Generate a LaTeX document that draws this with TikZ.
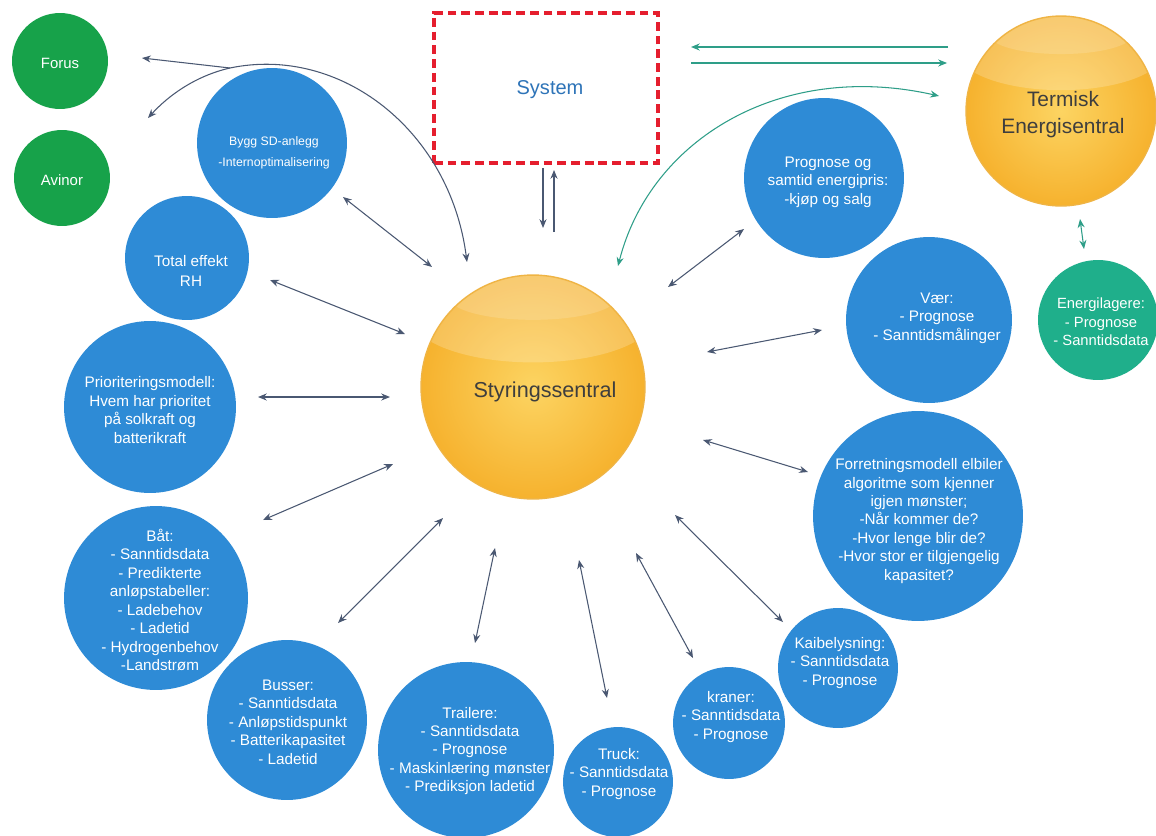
\documentclass[tikz,border=0pt]{standalone}
\usepackage{fontspec}
\setmainfont{Liberation Sans}
\usetikzlibrary{arrows.meta,calc}
\definecolor{cblue}{HTML}{2E8BD6}
\definecolor{cgreen}{HTML}{17A24A}
\definecolor{cteal}{HTML}{1FAF8B}
\definecolor{yin}{HTML}{FCD462}
\definecolor{yout}{HTML}{F6B22E}
\definecolor{yedge}{HTML}{EFB444}
\definecolor{arrc}{HTML}{4A5872}
\definecolor{tealarr}{HTML}{2E9E88}
\definecolor{sysred}{HTML}{E51E2E}
\definecolor{sysblue}{HTML}{2E74B8}
\definecolor{darktxt}{HTML}{3E3E3E}
\begin{document}
\begin{tikzpicture}[x=0.02cm,y=-0.02cm,
  circ/.style={circle, inner sep=0pt, minimum size=#1*0.04cm},
  bluec/.style={circ=#1, fill=cblue},
  greenc/.style={circ=#1, fill=cgreen},
  tealc/.style={circ=#1, fill=cteal},
  yelc/.style={circ=#1, draw=yedge, line width=0.8pt, shading=radial,
    inner color=yin, outer color=yout,
    path picture={\fill[white,opacity=0.2] ($(path picture bounding box.north)+(0,0.36*#1)$) ellipse[x radius=1.1*#1, y radius=0.42*#1];
                  \fill[white,opacity=0.15] ($(path picture bounding box.north)+(0,0.2*#1)$) ellipse[x radius=0.75*#1, y radius=0.2*#1];}},
  wtxt/.style={text=white, align=center, font=\fontsize{8.7}{10.5}\selectfont, inner sep=0pt},
  dbl/.style={{Stealth[length=5pt,width=4pt]}-{Stealth[length=5pt,width=4pt]}, draw=arrc, line width=0.6pt},
  one/.style={-{Stealth[length=5pt,width=4pt]}, draw=arrc, line width=0.6pt},
  tdbl/.style={{Stealth[length=5pt,width=4pt]}-{Stealth[length=5pt,width=4pt]}, draw=tealarr, line width=0.6pt},
  tone/.style={-{Stealth[length=5pt,width=4pt]}, draw=tealarr, line width=0.6pt}
]
\useasboundingbox[fill=white] (0,0) rectangle (1156,835);

% ---------- circles ----------
\node[greenc=48] (forus) at (60,61) {};
\node[wtxt, font=\fontsize{8.5}{10}\selectfont] (forus-t) at (60,63) {Forus};
\node[greenc=48] (avinor) at (62,178) {};
\node[wtxt, font=\fontsize{8.5}{10}\selectfont] (avinor-t) at (62,180) {Avinor};

\node[bluec=75] (bygg) at (272,143) {};
\node[wtxt, font=\fontsize{7}{12}\selectfont] (bygg-t) at (274,153) {Bygg SD-anlegg\\-Internoptimalisering};

\node[bluec=62] (total) at (187,258) {};
\node[wtxt, font=\fontsize{8.7}{11.3}\selectfont] (total-t) at (191,271) {Total effekt\\RH};

\node[bluec=86] (prior) at (150,407) {};
\node[wtxt] (prior-t) at (150,410) {Prioriteringsmodell:\\Hvem har prioritet\\på solkraft og\\batterikraft};

\node[bluec=92] (baat) at (156,598) {};
\node[wtxt] (baat-t) at (160,600) {Båt:\\- Sanntidsdata\\- Predikterte\\anløpstabeller:\\- Ladebehov\\- Ladetid\\- Hydrogenbehov\\-Landstrøm};

\node[bluec=80] (buss) at (287,720) {};
\node[wtxt] (buss-t) at (288,722) {Busser:\\- Sanntidsdata\\- Anløpstidspunkt\\- Batterikapasitet\\- Ladetid};

\node[bluec=88] (trail) at (466,750) {};
\node[wtxt] (trail-t) at (470,751) {Trailere:\\- Sanntidsdata\\- Prognose\\- Maskinlæring mønster\\- Prediksjon ladetid};

\node[bluec=55] (truck) at (618,782) {};
\node[wtxt] (truck-t) at (619,774) {Truck:\\- Sanntidsdata\\- Prognose};

\node[bluec=56] (kran) at (729,723) {};
\node[wtxt] (kran-t) at (731,717) {kraner:\\- Sanntidsdata\\- Prognose};

\node[bluec=60] (kai) at (838,668) {};
\node[wtxt] (kai-t) at (840,663) {Kaibelysning:\\- Sanntidsdata\\- Prognose};

\node[bluec=105] (forr) at (918,516) {};
\node[wtxt] (forr-t) at (919,521) {Forretningsmodell elbiler\\algoritme som kjenner\\igjen mønster;\\-Når kommer de?\\-Hvor lenge blir de?\\-Hvor stor er tilgjengelig\\kapasitet?};

\node[bluec=83] (vaer) at (929,320) {};
\node[wtxt] (vaer-t) at (937,318) {Vær:\\- Prognose\\- Sanntidsmålinger};

\node[bluec=80] (pris) at (824,178) {};
\node[wtxt] (pris-t) at (828,182) {Prognose og\\samtid energipris:\\-kjøp og salg};

\node[tealc=60] (lager) at (1098,320) {};
\node[wtxt, font=\fontsize{8.4}{10.5}\selectfont] (lager-t) at (1101,322) {Energilagere:\\- Prognose\\- Sanntidsdata};

\node[yelc=95] (term) at (1061,111) {};
\node[text=darktxt, align=center, font=\fontsize{11.9}{15.3}\selectfont, inner sep=0pt] (term-t) at (1063,115) {Termisk\\Energisentral};

\node[yelc=112] (styr) at (533,387) {};
\node[text=darktxt, font=\fontsize{12.3}{15}\selectfont, inner sep=0pt] (styr-t) at (545,392) {Styringssentral};

\node[draw=sysred, dash pattern=on 5pt off 2.8pt, line width=2.1pt, minimum width=224*0.02cm, minimum height=150*0.02cm, inner sep=0pt] (sys) at (546,88) {};
\node[text=sysblue, font=\fontsize{11.4}{14}\selectfont, inner sep=0pt] (sys-t) at (550,90) {System};

% ---------- connector end points ----------
\coordinate (bygg-o) at (343,197);   \coordinate (styr-bygg) at (432,267);
\coordinate (total-o) at (270,280);  \coordinate (styr-total) at (405,334);
\coordinate (prior-o) at (258,397);  \coordinate (styr-prior) at (390,397);
\coordinate (baat-o) at (263,520);   \coordinate (styr-baat) at (393,464);
\coordinate (buss-o) at (338,623);   \coordinate (styr-buss) at (443,518);
\coordinate (trail-o) at (475,643);  \coordinate (styr-trail) at (495,548);
\coordinate (truck-o) at (607,698);  \coordinate (styr-truck) at (579,560);
\coordinate (kran-o) at (693,658);   \coordinate (styr-kran) at (636,553);
\coordinate (kai-o) at (783,622);    \coordinate (styr-kai) at (675,515);
\coordinate (forr-o) at (808,472);   \coordinate (styr-forr) at (703,440);
\coordinate (vaer-o) at (822,330);   \coordinate (styr-vaer) at (707,352);
\coordinate (pris-o) at (744,229);   \coordinate (styr-pris) at (668,287);

\coordinate (sys-d) at (543,168);    \coordinate (styr-sd) at (543,228);
\coordinate (styr-su) at (554,232);  \coordinate (sys-u) at (554,170);

\coordinate (term-w1) at (948,47);   \coordinate (sys-e1) at (691,47);
\coordinate (sys-e2) at (691,63);    \coordinate (term-w2) at (947,63);

\coordinate (styr-ne) at (618,266);  \coordinate (term-w) at (939,96);
\coordinate (term-s) at (1080,219);  \coordinate (lager-n) at (1084,249);

\coordinate (styr-nw) at (467,262);  \coordinate (split) at (230,68);
\coordinate (forus-e) at (142,58);   \coordinate (avinor-ne) at (148,118);

% ---------- connectors ----------
\draw[dbl] (bygg-o) -- (styr-bygg);
\draw[dbl] (total-o) -- (styr-total);
\draw[dbl] (prior-o) -- (styr-prior);
\draw[dbl] (baat-o) -- (styr-baat);
\draw[dbl] (buss-o) -- (styr-buss);
\draw[dbl] (trail-o) -- (styr-trail);
\draw[dbl] (truck-o) -- (styr-truck);
\draw[dbl] (kran-o) -- (styr-kran);
\draw[dbl] (kai-o) -- (styr-kai);
\draw[dbl] (forr-o) -- (styr-forr);
\draw[dbl] (vaer-o) -- (styr-vaer);
\draw[dbl] (pris-o) -- (styr-pris);

\draw[one] (sys-d) -- (styr-sd);
\draw[one] (styr-su) -- (sys-u);

\draw[tone] (term-w1) -- (sys-e1);
\draw[tone] (sys-e2) -- (term-w2);
\draw[tdbl] (styr-ne) .. controls (650,140) and (780,60) .. (term-w);
\draw[tdbl] (term-s) -- (lager-n);

\draw[one] (split) .. controls (340,45) and (450,130) .. (styr-nw);
\draw[one] (split) -- (forus-e);
\draw[one] (split) .. controls (195,76) and (168,96) .. (avinor-ne);
\end{tikzpicture}
\end{document}
